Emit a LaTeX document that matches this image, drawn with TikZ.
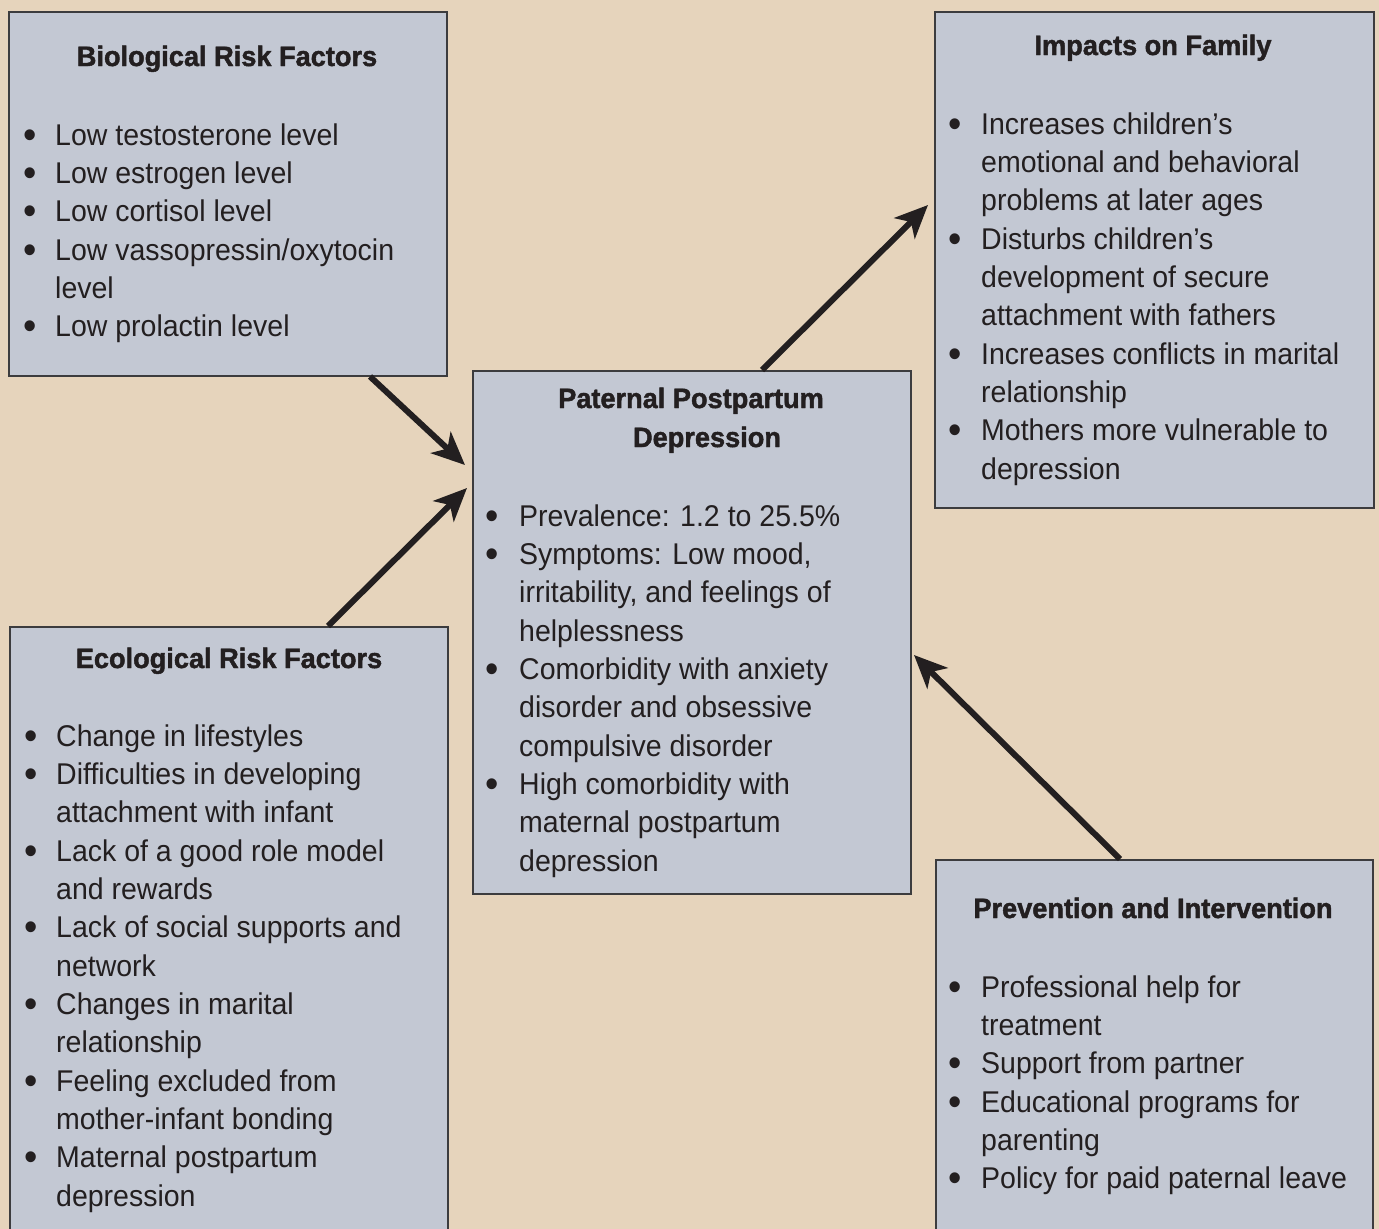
\documentclass[tikz,border=0pt]{standalone}
\usepackage{fontspec}
\setmainfont{Liberation Sans}[FakeStretch=0.95]
\newfontfamily\ttlfont{Liberation Sans Bold}[FakeBold=1.6,FakeStretch=0.97]
\usetikzlibrary{arrows.meta,calc}
\definecolor{bg}{HTML}{E6D4BC}
\definecolor{boxfill}{HTML}{C3C8D3}
\definecolor{ink}{HTML}{231F20}
\definecolor{edge}{HTML}{3C3C3E}
\tikzset{
  panel/.style={draw=edge, line width=1.5pt, fill=boxfill, anchor=north west, inner sep=0pt},
  bodytxt/.style={anchor=base west, inner sep=0pt, text=ink, font=\fontsize{30}{36}\selectfont},
  bul/.style={anchor=base, inner sep=0pt, text=ink, font=\fontsize{40}{44}\selectfont},
  ttl/.style={anchor=base, inner sep=0pt, text=ink, font=\ttlfont\fontsize{28}{34}\selectfont},
  arr/.style={line width=6pt, draw=ink, -{Stealth[length=33pt,width=29pt,inset=9pt]}},
}
\newcommand\listlines[5]{%
  \foreach \k/\b/\t in {#5}{%
    \node[bodytxt] (#1-l\k) at (#3,{#4+\k*38.35}) {\t};
    \ifnum\b=1 \node[bul] (#1-b\k) at (#2,{#4+\k*38.35+3}) {•};\fi
  }}
\begin{document}
\begin{tikzpicture}[x=1pt,y=-1pt]
\useasboundingbox (0,0) rectangle (1379,1229);
\fill[bg] (0,0) rectangle (1379,1229);
\clip (0,0) rectangle (1379,1229);

% panels
\node[panel, minimum width=438pt, minimum height=364pt] (bio) at (8,11) {};
\node[panel, minimum width=439pt, minimum height=496pt] (imp) at (934,11) {};
\node[panel, minimum width=438pt, minimum height=523pt] (ppd) at (472,370) {};
\node[panel, minimum width=438pt, minimum height=620pt] (eco) at (9,626) {};
\node[panel, minimum width=437pt, minimum height=390pt] (prev) at (935,859) {};

% titles
\node[ttl] (bio-t) at (227,66) {Biological Risk Factors};
\node[ttl] (imp-t) at (1153,55) {Impacts on Family};
\node[ttl] (ppd-t1) at (691,408) {Paternal Postpartum};
\node[ttl] (ppd-t2) at (707,447) {Depression};
\node[ttl] (eco-t) at (229,668) {Ecological Risk Factors};
\node[ttl] (prev-t) at (1153,918) {Prevention and Intervention};

% lists
\listlines{bio}{30}{55}{145}{0/1/{Low testosterone level},1/1/{Low estrogen level},2/1/{Low cortisol level},3/1/{Low vassopressin/oxytocin},4/0/{level},5/1/{Low prolactin level}}
\listlines{imp}{955}{981}{134}{0/1/{Increases children’s},1/0/{emotional and behavioral},2/0/{problems at later ages},3/1/{Disturbs children’s},4/0/{development of secure},5/0/{attachment with fathers},6/1/{Increases conflicts in marital},7/0/{relationship},8/1/{Mothers more vulnerable to},9/0/{depression}}
\listlines{ppd}{492}{519}{526}{0/1/{Prevalence: 1.2 to 25.5\%},1/1/{Symptoms: Low mood,},2/0/{irritability, and feelings of},3/0/{helplessness},4/1/{Comorbidity with anxiety},5/0/{disorder and obsessive},6/0/{compulsive disorder},7/1/{High comorbidity with},8/0/{maternal postpartum},9/0/{depression}}
\listlines{eco}{31}{56}{746}{0/1/{Change in lifestyles},1/1/{Difficulties in developing},2/0/{attachment with infant},3/1/{Lack of a good role model},4/0/{and rewards},5/1/{Lack of social supports and},6/0/{network},7/1/{Changes in marital},8/0/{relationship},9/1/{Feeling excluded from},10/0/{mother-infant bonding},11/1/{Maternal postpartum},12/0/{depression}}
\listlines{prev}{955}{981}{997}{0/1/{Professional help for},1/0/{treatment},2/1/{Support from partner},3/1/{Educational programs for},4/0/{parenting},5/1/{Policy for paid paternal leave}}

% arrow ends
\coordinate (t1) at (465,465);
\coordinate (t2) at (467,488);
\coordinate (t3) at (928,205);
\coordinate (t4) at (914,655);

\draw[arr] ([xshift=362pt]bio.south west) -- (t1);
\draw[arr] ([xshift=319pt]eco.north west) -- (t2);
\draw[arr] ([xshift=290pt]ppd.north west) -- (t3);
\draw[arr] ([xshift=185pt]prev.north west) -- (t4);
\end{tikzpicture}
\end{document}
